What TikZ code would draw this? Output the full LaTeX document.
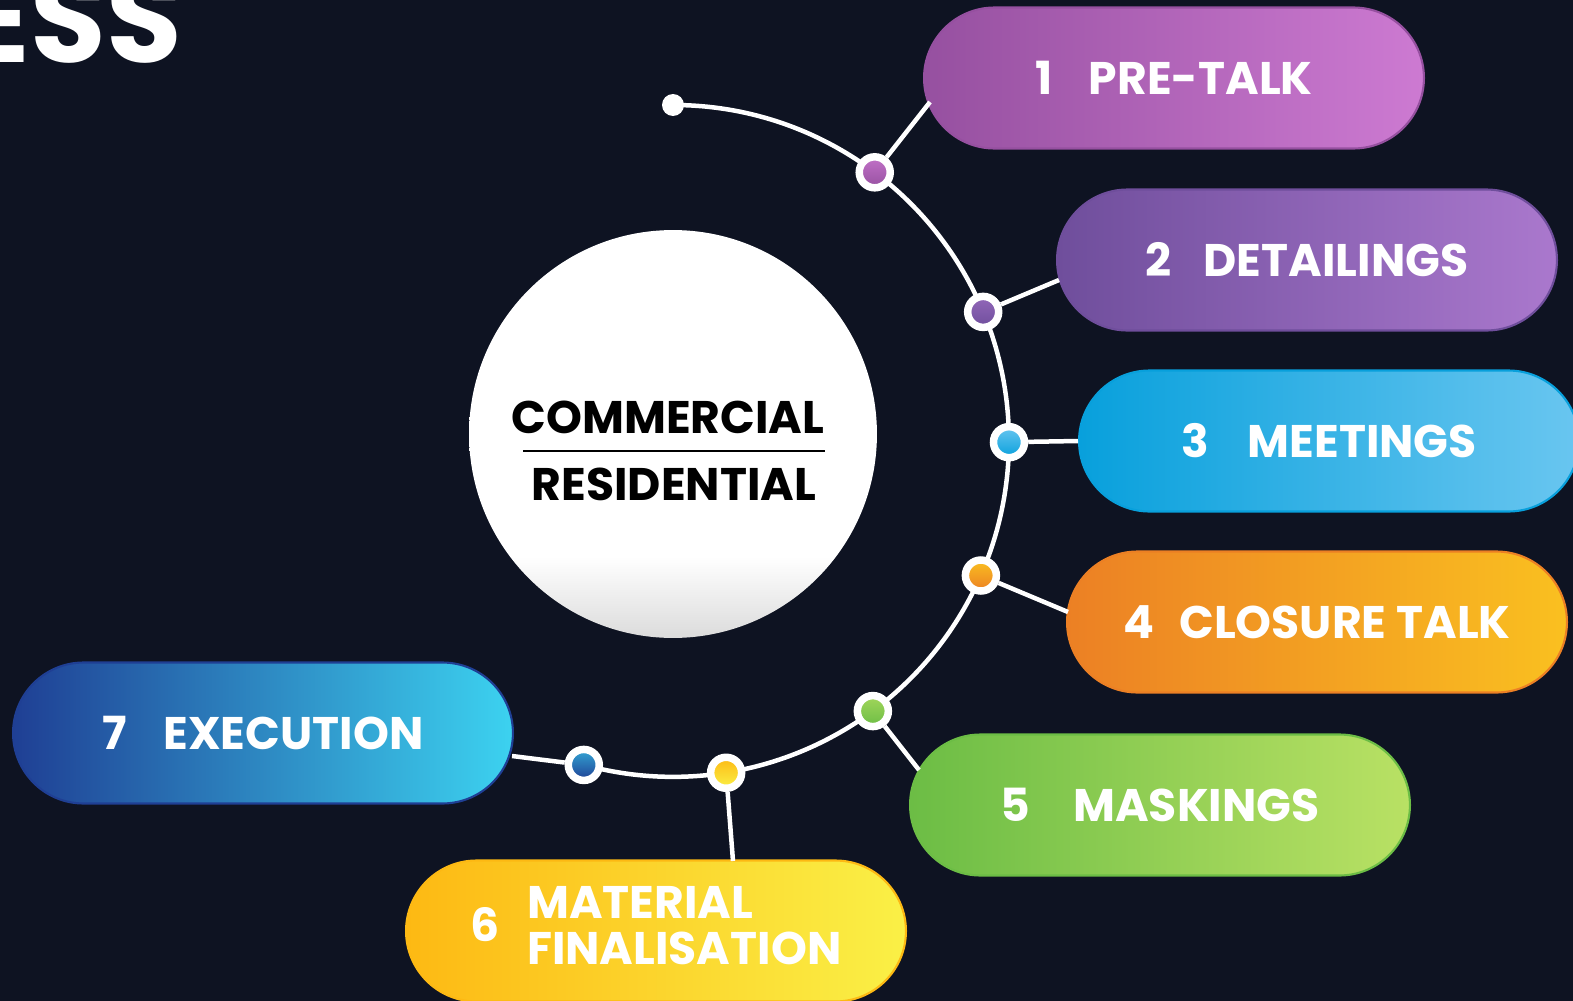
\documentclass[tikz,border=0pt]{standalone}
\usepackage{fontspec}
\setmainfont{Poppins}
\usepackage{tikz}
\usetikzlibrary{shapes.misc,positioning,calc}
\definecolor{navybg}{RGB}{14,19,34}
\definecolor{pretalkL}{RGB}{150,80,160}
\definecolor{pretalkR}{RGB}{205,122,210}
\definecolor{detailL}{RGB}{111,78,156}
\definecolor{detailR}{RGB}{170,120,205}
\definecolor{meetL}{RGB}{8,160,220}
\definecolor{meetR}{RGB}{105,198,240}
\definecolor{closeL}{RGB}{236,128,36}
\definecolor{closeR}{RGB}{250,192,32}
\definecolor{maskL}{RGB}{108,189,69}
\definecolor{maskR}{RGB}{185,225,100}
\definecolor{matL}{RGB}{253,185,19}
\definecolor{matR}{RGB}{250,240,70}
\definecolor{execL}{RGB}{31,63,148}
\definecolor{execR}{RGB}{60,210,240}
\pgfdeclareverticalshading{discshade}{100bp}{color(0bp)=(black!14); color(25bp)=(black!14); color(35bp)=(white); color(100bp)=(white)}

\begin{document}
\begin{tikzpicture}[
    x=0.02cm, y=0.02cm,
    pill/.style={rounded rectangle, minimum width=10cm, minimum height=2.82cm, inner sep=0pt, text=white, line width=1.2pt, font=\bfseries\fontsize{26}{30}\selectfont},
    ring/.style={circle, draw=white, line width=0.15cm, minimum size=0.62cm, inner sep=0pt},
    track/.style={draw=white, line width=0.09cm},
    hubtext/.style={anchor=base, text=black, font=\bfseries\fontsize{26}{30}\selectfont}
]
    \fill[navybg] (0,0) rectangle (1573,-1001);
    \useasboundingbox (0,0) rectangle (1573,-1001);

    % heading, cut by the page edge
    \node[anchor=base east, text=white, inner sep=0pt, font=\bfseries\fontsize{70}{80}\selectfont] (title) at (182,-62) {ESS};

    % centre disc
    \node[circle, minimum size=8.16cm, inner sep=0pt, shade, shading=discshade] (hub) at (673,-434) {};
    \node[hubtext] (comm) at (668,-433) {COMMERCIAL};
    \node[hubtext] (resi) at (674,-500) {RESIDENTIAL};
    \draw[black, line width=0.7pt] (523,-451) -- (825,-451);

    % track with stops
    \begin{scope}[shift={(673,-441)}]
        \draw[track] (90:336) arc[start angle=90, end angle=-105.4, radius=6.72cm];
        \node[circle, fill=white, minimum size=0.44cm, inner sep=0pt] (start) at (90:336) {};
        \node[ring, top color=pretalkR!80!pretalkL, bottom color=pretalkL] (d1) at (53.1:336) {};
        \node[ring, top color=detailR!60!detailL, bottom color=detailL] (d2) at (22.6:336) {};
        \node[ring, top color=meetR, bottom color=meetL] (d3) at (-0.2:336) {};
        \node[ring, top color=closeR, bottom color=closeL] (d4) at (-23.6:336) {};
        \node[ring, top color=maskR!70!maskL, bottom color=maskL] (d5) at (-53.5:336) {};
        \node[ring, top color=matL, bottom color=matR] (d6) at (-80.9:336) {};
        \node[ring, top color=execR!70!execL, bottom color=execL] (d7) at (-105.4:336) {};
    \end{scope}

    % stages
    \node[pill, left color=pretalkL, right color=pretalkR, draw=pretalkL] (p1) at (1174,-78) {1\hspace{0.8em}PRE-TALK};
    \node[pill, left color=detailL, right color=detailR, draw=detailL] (p2) at (1307,-260) {2\hspace{0.7em}DETAILINGS};
    \node[pill, left color=meetL, right color=meetR, draw=meetL] (p3) at (1329,-441) {3\hspace{0.85em}MEETINGS};
    \node[pill, left color=closeL, right color=closeR, draw=closeL] (p4) at (1317,-622) {4\hspace{0.55em}CLOSURE TALK};
    \node[pill, left color=maskL, right color=maskR, draw=maskL] (p5) at (1160,-805) {5\hspace{0.95em}MASKINGS};
    \node[pill, left color=matL, right color=matR, draw=matL] (p6) at (656,-931) {6\hspace{0.6em}\begin{tabular}{@{}l@{}}MATERIAL\\[-4pt]FINALISATION\end{tabular}};
    \node[pill, left color=execL, right color=execR, draw=execL] (p7) at (263,-733) {7\hspace{0.8em}EXECUTION};

    % links from stops to stages
    \coordinate (c1) at (930,-102);
    \coordinate (c2) at (1059,-280);
    \coordinate (c4) at (1068,-612);
    \coordinate (c5) at (919,-770);
    \coordinate (c6) at (733,-861);
    \coordinate (c7) at (512,-756);
    \draw[track] (d1) -- (c1);
    \draw[track] (d2) -- (c2);
    \draw[track] (d3) -- (p3.west);
    \draw[track] (d4) -- (c4);
    \draw[track] (d5) -- (c5);
    \draw[track] (d6) -- (c6);
    \draw[track] (d7) -- (c7);
\end{tikzpicture}
\end{document}
